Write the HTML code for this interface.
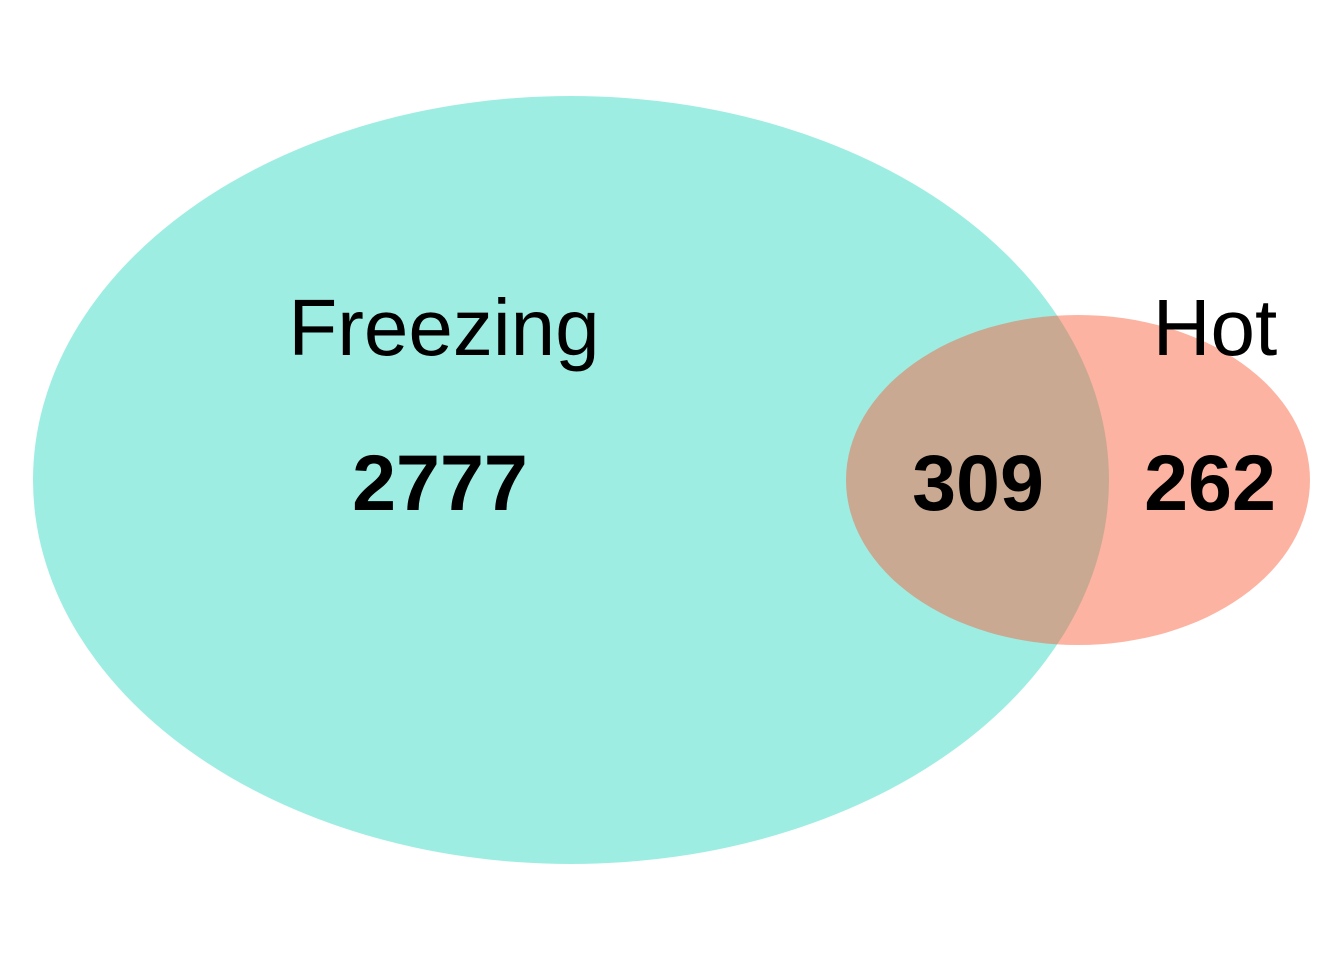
<!DOCTYPE html>
<html><head><meta charset="utf-8">
<style>
html,body{margin:0;padding:0;background:#fff;}
svg{display:block;}
text{font-family:"Liberation Sans",Arial,sans-serif;fill:#000;}
</style></head>
<body>
<svg id="venn" width="1344" height="960" viewBox="0 0 1344 960" xmlns="http://www.w3.org/2000/svg">
  <rect width="1344" height="960" fill="#fff"/>
  <ellipse cx="571" cy="480" rx="538" ry="384" fill="#9EEDE2"/>
  <ellipse cx="1078" cy="480" rx="232" ry="165" fill="#FB5E37" fill-opacity="0.47"/>
  <g id="labels"></g>
</svg>
<script>
const setNames = ["Freezing", "Hot"];
const regionNames = ["freezing-only", "intersection", "hot-only"];
const regionCounts = [2777, 309, 262];

const ns = "http://www.w3.org/2000/svg";
const g = document.getElementById("labels");
function addText(str, x, y, size, weight, name) {
  const t = document.createElementNS(ns, "text");
  t.setAttribute("x", x);
  t.setAttribute("y", y);
  t.setAttribute("font-size", size);
  t.setAttribute("font-weight", weight);
  t.setAttribute("text-anchor", "middle");
  
  
  t.textContent = str;
  g.appendChild(t);
}
const setLabelX = [444, 1215];
setNames.forEach((n, i) => addText(n, setLabelX[i], 355, 80, "normal", "set-label-" + n.toLowerCase()));
const countX = [440, 978, 1210];
regionCounts.forEach((c, i) => addText(String(c), countX[i], 510, 79, "bold", "count-" + regionNames[i]));
</script>
</body></html>
